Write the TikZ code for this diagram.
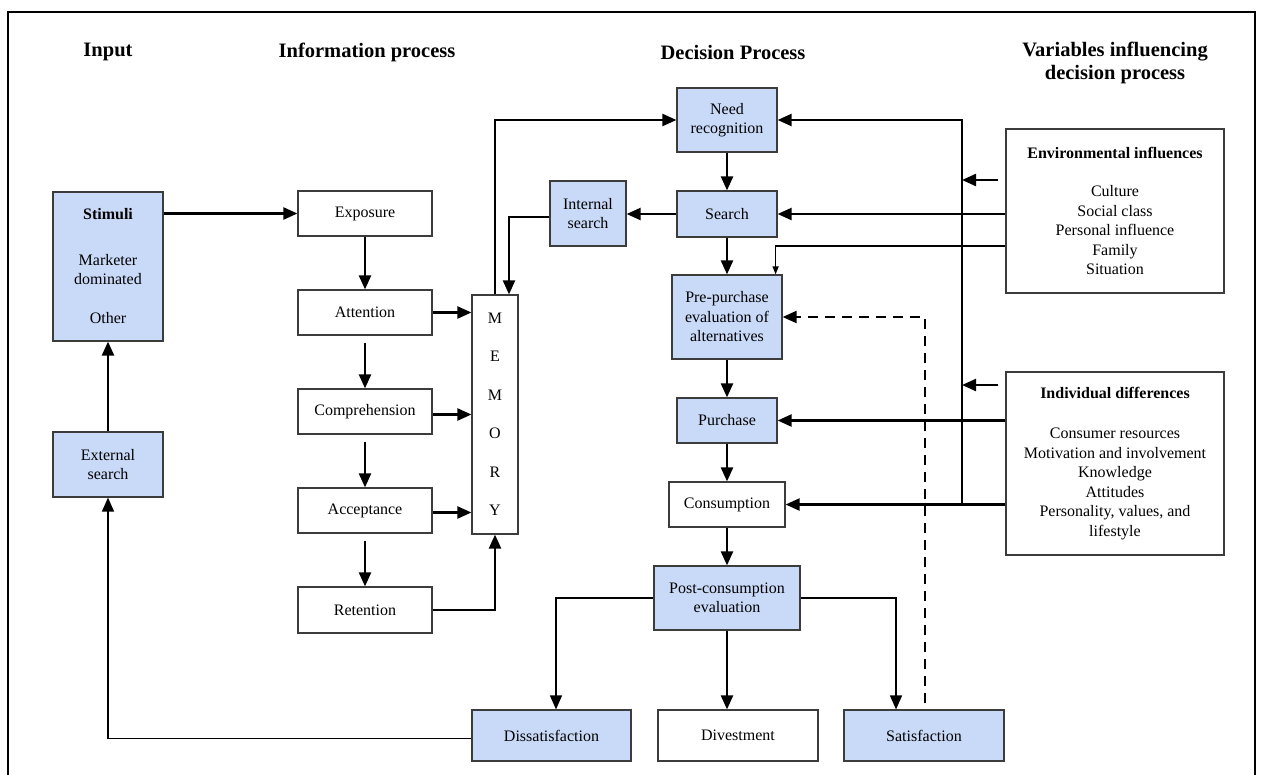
\documentclass[tikz,border=0pt]{standalone}
\usepackage{fontspec}
\setmainfont{Liberation Serif}
\usetikzlibrary{arrows.meta}
\definecolor{boxblue}{HTML}{C9DAF8}
\definecolor{boxline}{HTML}{3C3C3C}
\begin{document}
\begin{tikzpicture}[x=1pt,y=-1pt,
  box/.style={draw=boxline, line width=1.2pt, fill=white, align=center, inner sep=0pt,
              font=\fontsize{16}{19.5}\selectfont},
  bluebox/.style={box, fill=boxblue},
  wh/.style 2 args={minimum width=#1pt, minimum height=#2pt},
  arr/.style={line width=2.3pt, -{Triangle[length=14pt,width=12pt]}},
  thinarr/.style={line width=1.4pt, -{Triangle[length=14pt,width=12pt]}},
  smallarr/.style={line width=1.4pt, -{Triangle[length=8pt,width=6pt]}},
  dasharr/.style={line width=2pt, dash pattern=on 10pt off 7pt, -{Triangle[length=14pt,width=12pt]}},
  ttl/.style={font=\fontsize{20.5}{23}\selectfont\bfseries, align=center, inner sep=0pt}]
\useasboundingbox (0,0) rectangle (1265,774);
\draw[line width=2pt] (8,790) -- (8,12) -- (1255,12) -- (1255,790);

% titles
\node[ttl] (tin) at (108,52) {Input};
\node[ttl] (tinfo) at (367,52) {Information process};
\node[ttl] (tdec) at (733,52) {Decision Process};
\node[ttl] (tvar) at (1115,63) {Variables influencing\\decision process};

% input column
\node[bluebox, wh={110}{149}] (stim) at (108,266.5) {\textbf{Stimuli}\\[26pt]Marketer\\dominated\\[19.5pt]Other};
\node[bluebox, wh={110}{65}] (ext) at (108,464.5) {External\\search};

% information process
\node[box, wh={134}{45}] (expo) at (365,213.5) {Exposure};
\node[box, wh={134}{45}] (att) at (365,312.5) {Attention};
\node[box, wh={134}{45}] (comp) at (365,411.5) {Comprehension};
\node[box, wh={134}{45}] (acc) at (365,510.5) {Acceptance};
\node[box, wh={134}{46}] (ret) at (365,610) {Retention};
\node[box, wh={46}{239}] (mem) at (495,414.5) {M\\[19pt]E\\[19pt]M\\[19pt]O\\[19pt]R\\[19pt]Y};
\node[bluebox, wh={76}{65}] (intsrch) at (588,213.5) {Internal\\search};

% decision process
\node[bluebox, wh={100}{64}] (need) at (727,120) {Need\\recognition};
\node[bluebox, wh={100}{46}] (search) at (727,214) {Search};
\node[bluebox, wh={110}{84}] (pre) at (727,317) {Pre-purchase\\evaluation of\\alternatives};
\node[bluebox, wh={100}{45}] (purch) at (727,420.5) {Purchase};
\node[box, wh={116}{45}] (cons) at (727,504.5) {Consumption};
\node[bluebox, wh={146}{64}] (post) at (727,598) {Post-consumption\\evaluation};
\node[bluebox, wh={159}{51}] (dis) at (551.5,735.5) {Dissatisfaction};
\node[box, wh={160}{51}] (div) at (738,735.5) {Divestment};
\node[bluebox, wh={160}{51}] (sat) at (924,735.5) {Satisfaction};

% variables
\node[box, wh={218}{164}] (env) at (1115,211) {\textbf{Environmental influences}\\[18.5pt]Culture\\Social class\\Personal influence\\Family\\Situation};
\node[box, wh={218}{183}] (ind) at (1115,463.5) {\textbf{Individual differences}\\[20.5pt]Consumer resources\\Motivation and involvement\\Knowledge\\Attitudes\\Personality, values, and\\lifestyle};

% coordinates
\coordinate (bus) at (962,0);
\coordinate (e1) at ([xshift=-7pt,yshift=31pt]env.west);
\coordinate (i1) at ([xshift=-7pt,yshift=78.5pt]ind.west);
\coordinate (fam) at ([yshift=-35pt]env.west);
\coordinate (dashbot) at (925,703);

% input connectors
\draw[arr] (stim.east |- expo.west) -- (expo.west);
\draw[arr] (ext.north) -- (stim.south);
\draw[thinarr] ([yshift=-3pt]dis.west) -| (ext.south);

% information process connectors
\draw[arr] (expo.south) -- (att.north);
\draw[arr] ([yshift=-7pt]att.south) -- (comp.north);
\draw[arr] ([yshift=-7pt]comp.south) -- (acc.north);
\draw[arr] ([yshift=-7pt]acc.south) -- (ret.north);
\draw[arr] (att.east) -- (att.east -| mem.west);
\draw[arr] ([yshift=-3pt]comp.east) -- ([yshift=-3pt]comp.east -| mem.west);
\draw[arr] ([yshift=-2pt]acc.east) -- ([yshift=-2pt]acc.east -| mem.west);
\draw[arr] (ret.east) -| (mem.south);
\draw[arr] (mem.north) |- (need.west);
\draw[arr] ([yshift=-3.5pt]intsrch.west) -| ([xshift=14pt]mem.north);
\draw[arr] (search.west) -- (search.west -| intsrch.east);

% decision process connectors
\draw[arr] (need.south) -- (search.north);
\draw[arr] (search.south) -- (pre.north);
\draw[arr] (pre.south) -- (purch.north);
\draw[arr] (purch.south) -- (cons.north);
\draw[arr] (cons.south) -- (post.north);
\draw[arr] (post.south) -- (post.south |- div.north);
\draw[thinarr] (post.west) -| ([xshift=4.5pt]dis.north);
\draw[thinarr] (post.east) -| ([xshift=-28pt]sat.north);
\draw[dasharr] (dashbot) |- (pre.east);

% influence connectors
\draw[arr] (env.west |- search.east) -- (search.east);
\draw[smallarr] (fam) -| ([xshift=-7pt]pre.north east);
\draw[arr] (ind.west |- purch.east) -- (purch.east);
\draw[arr] (ind.west |- cons.east) -- (cons.east);
\draw[arr, line join=miter] (bus |- cons.east) -- (bus |- need.east) -- (need.east);
\draw[arr] (e1) -- (e1 -| bus);
\draw[arr] (i1) -- (i1 -| bus);
\end{tikzpicture}
\end{document}
